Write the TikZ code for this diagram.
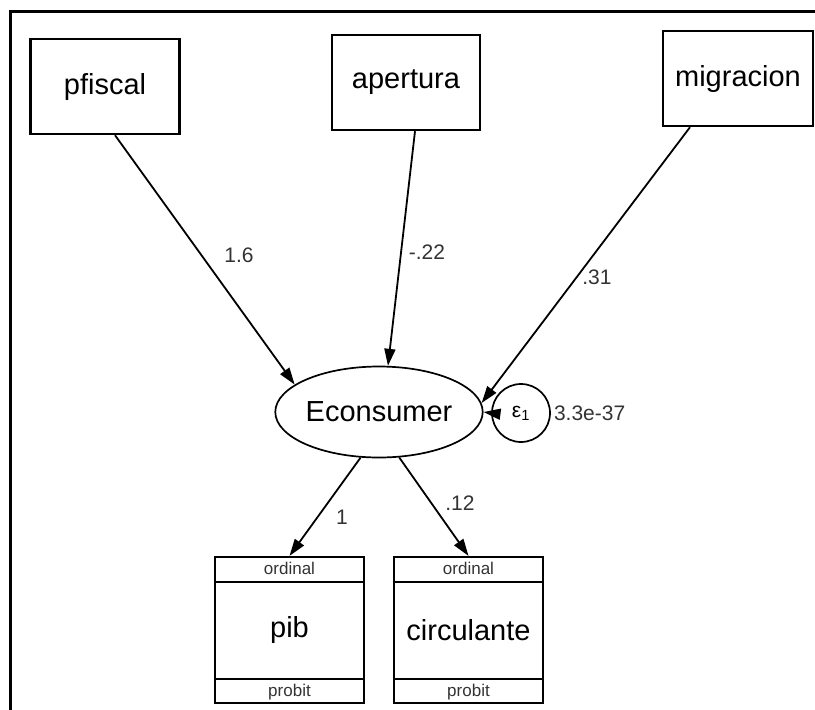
\documentclass[tikz,border=0pt]{standalone}
\usepackage{fontspec}
\setmainfont{Liberation Sans}
\usetikzlibrary{arrows.meta,positioning,shapes.geometric,calc}
\tikzset{
semobs/.style={rectangle,draw,line width=2.4pt,inner sep=0pt,minimum width=149pt,minimum height=95pt,font=\fontsize{29}{31}\selectfont},
semord/.style={rectangle,draw,line width=2.2pt,inner sep=0pt,minimum width=149pt,minimum height=146pt,font=\fontsize{29}{31}\selectfont},
semlat/.style={ellipse,draw,line width=1.7pt,inner sep=0pt,minimum width=150pt,minimum height=91pt,font=\fontsize{29}{31}\selectfont},
semerr/.style={circle,draw,line width=1.7pt,inner sep=0pt,minimum size=58pt,font=\fontsize{21}{23}\selectfont},
semarr/.style={-{Triangle[length=17pt,width=11pt]},line width=1.8pt},
semstrip/.style={line width=2pt},
semtag/.style={font=\fontsize{17}{19}\selectfont,inner sep=0pt,text=black!80},
semlbl/.style={font=\fontsize{21}{23}\selectfont,inner sep=1pt,text=black!80},
semframe/.style={line width=3pt}
}
\begin{document}
\begin{tikzpicture}[x=1pt,y=-1pt]
\useasboundingbox (0,0) rectangle (815,710);
\draw[semframe] (10,712) -- (10,11) -- (817,11);
% observed causes
\node[semobs] (pfiscal) at (105,86.5) {pfiscal};
\node[semobs,minimum width=148pt] (apertura) at (406,82.5) {apertura};
\node[semobs,minimum width=150pt] (migracion) at (738,78.5) {migracion};
% latent and error
\node[semlat] (econ) at (379,412) {Econsumer};
\node[semerr] (eps) at (521,413) {ε\textsubscript{1}};
% ordinal indicators
\node[semord] (pib) at (289.5,630) {pib};
\node[semord] (circ) at (468.5,630) {circulante};
\foreach \n in {pib,circ}{
  \draw[semstrip] ($(\n.north west)+(0,26)$) -- ($(\n.north east)+(0,26)$);
  \draw[semstrip] ($(\n.south west)+(0,-25)$) -- ($(\n.south east)+(0,-25)$);
  \node[semtag] at ($(\n.north)+(0,13)$) {ordinal};
  \node[semtag] at ($(\n.south)+(0,-12.5)$) {probit};
}
% paths
\draw[semarr] ($(pfiscal.south)+(10,0)$) -- (econ.162);
\draw[semarr] ($(apertura.south)+(9,0)$) -- (econ.79);
\draw[semarr] ($(migracion.south)+(-48,0)$) -- (econ.5);
\draw[semarr] (eps.west) -- (econ.east);
\draw[semarr] (econ.248) -- (pib.north);
\draw[semarr] (econ.294) -- (circ.north);
% estimates
\node[semlbl] at (239,255) {1.6};
\node[semlbl] at (427,252) {-.22};
\node[semlbl] at (597,277) {.31};
\node[semlbl,right=2pt of eps.east] {3.3e-37};
\node[semlbl] at (342,517) {1};
\node[semlbl] at (460,503) {.12};
\end{tikzpicture}
\end{document}
